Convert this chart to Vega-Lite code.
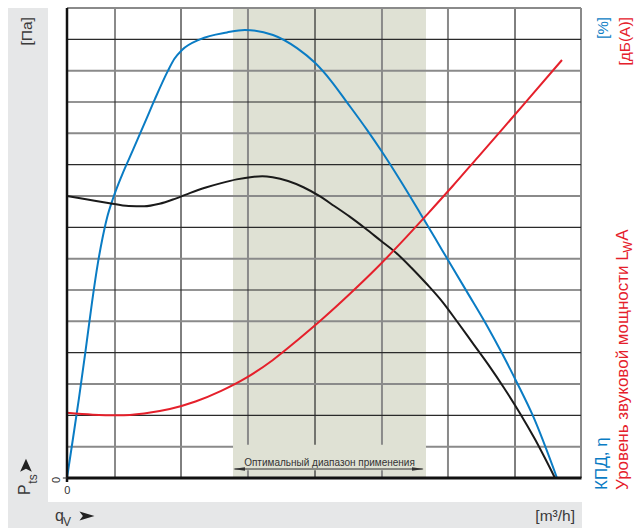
{
  "$schema": "https://vega.github.io/schema/vega-lite/v6.json",
  "width": 514,
  "height": 470,
  "autosize": {"type": "none"},
  "padding": {"left": 67, "top": 8, "right": 63, "bottom": 50},
  "background": "white",
  "config": {"view": {"stroke": null}, "font": "Liberation Sans", "text": {"font": "Liberation Sans"}},
  "datasets": {
    "curves": [
      {"series": "eta", "q": 0, "v": 0},
      {"series": "eta", "q": 1.2, "v": 1.3},
      {"series": "eta", "q": 2.33, "v": 2.55},
      {"series": "eta", "q": 3.6, "v": 4.05},
      {"series": "eta", "q": 4.86, "v": 5.6},
      {"series": "eta", "q": 6.0, "v": 6.85},
      {"series": "eta", "q": 6.9, "v": 7.65},
      {"series": "eta", "q": 7.78, "v": 8.3},
      {"series": "eta", "q": 8.95, "v": 8.92},
      {"series": "eta", "q": 10.7, "v": 9.67},
      {"series": "eta", "q": 12.84, "v": 10.47},
      {"series": "eta", "q": 15.37, "v": 11.43},
      {"series": "eta", "q": 17.12, "v": 12.1},
      {"series": "eta", "q": 19.65, "v": 13.0},
      {"series": "eta", "q": 20.9, "v": 13.38},
      {"series": "eta", "q": 22.37, "v": 13.66},
      {"series": "eta", "q": 25.88, "v": 14.0},
      {"series": "eta", "q": 31.13, "v": 14.22},
      {"series": "eta", "q": 34.6, "v": 14.3},
      {"series": "eta", "q": 40.08, "v": 14.14},
      {"series": "eta", "q": 44.75, "v": 13.72},
      {"series": "eta", "q": 48.25, "v": 13.25},
      {"series": "eta", "q": 51.4, "v": 12.67},
      {"series": "eta", "q": 54.47, "v": 11.99},
      {"series": "eta", "q": 58.37, "v": 11.11},
      {"series": "eta", "q": 61.28, "v": 10.41},
      {"series": "eta", "q": 64.79, "v": 9.51},
      {"series": "eta", "q": 68.68, "v": 8.46},
      {"series": "eta", "q": 72.96, "v": 7.28},
      {"series": "eta", "q": 77.82, "v": 5.94},
      {"series": "eta", "q": 81.71, "v": 4.86},
      {"series": "eta", "q": 84.63, "v": 3.98},
      {"series": "eta", "q": 87.55, "v": 3.04},
      {"series": "eta", "q": 90.66, "v": 1.98},
      {"series": "eta", "q": 95.33, "v": 0},
      {"series": "pressure", "q": 0, "v": 9.0},
      {"series": "pressure", "q": 4, "v": 8.89},
      {"series": "pressure", "q": 8, "v": 8.78},
      {"series": "pressure", "q": 12, "v": 8.68},
      {"series": "pressure", "q": 15, "v": 8.67},
      {"series": "pressure", "q": 18, "v": 8.75},
      {"series": "pressure", "q": 21, "v": 8.91},
      {"series": "pressure", "q": 24, "v": 9.1},
      {"series": "pressure", "q": 27, "v": 9.27},
      {"series": "pressure", "q": 30, "v": 9.41},
      {"series": "pressure", "q": 33, "v": 9.53},
      {"series": "pressure", "q": 36, "v": 9.61},
      {"series": "pressure", "q": 38, "v": 9.63},
      {"series": "pressure", "q": 40, "v": 9.6},
      {"series": "pressure", "q": 43, "v": 9.48},
      {"series": "pressure", "q": 46, "v": 9.28},
      {"series": "pressure", "q": 49, "v": 9.01},
      {"series": "pressure", "q": 52, "v": 8.68},
      {"series": "pressure", "q": 55, "v": 8.34},
      {"series": "pressure", "q": 58, "v": 7.97},
      {"series": "pressure", "q": 61, "v": 7.58},
      {"series": "pressure", "q": 64, "v": 7.19},
      {"series": "pressure", "q": 67, "v": 6.71},
      {"series": "pressure", "q": 70, "v": 6.19},
      {"series": "pressure", "q": 73, "v": 5.63},
      {"series": "pressure", "q": 76, "v": 4.97},
      {"series": "pressure", "q": 79, "v": 4.29},
      {"series": "pressure", "q": 82, "v": 3.61},
      {"series": "pressure", "q": 85, "v": 2.88},
      {"series": "pressure", "q": 88, "v": 2.1},
      {"series": "pressure", "q": 91, "v": 1.25},
      {"series": "pressure", "q": 94.94, "v": 0},
      {"series": "noise", "q": 0, "v": 2.08},
      {"series": "noise", "q": 5, "v": 2.02},
      {"series": "noise", "q": 10, "v": 2.0},
      {"series": "noise", "q": 15, "v": 2.06},
      {"series": "noise", "q": 20, "v": 2.2},
      {"series": "noise", "q": 25, "v": 2.44},
      {"series": "noise", "q": 30, "v": 2.78},
      {"series": "noise", "q": 35, "v": 3.21},
      {"series": "noise", "q": 40, "v": 3.76},
      {"series": "noise", "q": 45, "v": 4.42},
      {"series": "noise", "q": 50, "v": 5.12},
      {"series": "noise", "q": 55, "v": 5.87},
      {"series": "noise", "q": 60, "v": 6.66},
      {"series": "noise", "q": 65, "v": 7.51},
      {"series": "noise", "q": 70, "v": 8.4},
      {"series": "noise", "q": 75, "v": 9.31},
      {"series": "noise", "q": 80, "v": 10.25},
      {"series": "noise", "q": 85, "v": 11.19},
      {"series": "noise", "q": 90, "v": 12.14},
      {"series": "noise", "q": 96.3, "v": 13.34}
    ],
    "vgrid": [
      {"q": 9.34, "kind": "major"},
      {"q": 22.18, "kind": "minor"},
      {"q": 35.21, "kind": "major"},
      {"q": 48.25, "kind": "minor"},
      {"q": 61.28, "kind": "major"},
      {"q": 74.12, "kind": "major"},
      {"q": 87.16, "kind": "minor"},
      {"q": 100, "kind": "major"}
    ],
    "hgrid": [
      {"v": 1, "kind": "major"}, {"v": 2, "kind": "minor"}, {"v": 3, "kind": "major"},
      {"v": 4, "kind": "minor"}, {"v": 5, "kind": "major"}, {"v": 6, "kind": "minor"},
      {"v": 7, "kind": "major"}, {"v": 8, "kind": "minor"}, {"v": 9, "kind": "major"},
      {"v": 10, "kind": "minor"}, {"v": 11, "kind": "major"}, {"v": 12, "kind": "minor"},
      {"v": 13, "kind": "major"}, {"v": 14, "kind": "minor"}, {"v": 15, "kind": "major"}
    ]
  },
  "layer": [
    {
      "data": {"values": [{}]},
      "mark": {"type": "rect", "color": "#e6e7e8"},
      "encoding": {
        "x": {"datum": -11.48, "type": "quantitative", "scale": {"domain": [0, 100], "nice": false, "zero": false}, "axis": null},
        "x2": {"datum": -3.7},
        "y": {"datum": 15, "type": "quantitative", "scale": {"domain": [0, 15], "nice": false, "zero": false}, "axis": null},
        "y2": {"datum": -1.596}
      }
    },
    {
      "data": {"values": [{}]},
      "mark": {"type": "rect", "color": "#e6e7e8"},
      "encoding": {
        "x": {"datum": -11.48, "type": "quantitative", "scale": {"domain": [0, 100], "nice": false, "zero": false}, "axis": null},
        "x2": {"datum": 100.19},
        "y": {"datum": -0.766, "type": "quantitative", "scale": {"domain": [0, 15], "nice": false, "zero": false}, "axis": null},
        "y2": {"datum": -1.596}
      }
    },
    {
      "data": {"values": [{}]},
      "mark": {"type": "rect", "color": "#dfe1d4"},
      "encoding": {
        "x": {"datum": 32.3, "type": "quantitative", "scale": {"domain": [0, 100], "nice": false, "zero": false}, "axis": null},
        "x2": {"datum": 69.84},
        "y": {"datum": 0, "type": "quantitative", "scale": {"domain": [0, 15], "nice": false, "zero": false}, "axis": null},
        "y2": {"datum": 15}
      }
    },
    {
      "data": {"name": "vgrid"},
      "transform": [{"filter": "datum.kind == 'major'"}],
      "mark": {"type": "rule", "color": "#8a8a8a", "strokeWidth": 2},
      "encoding": {
        "x": {"field": "q", "type": "quantitative", "scale": {"domain": [0, 100], "nice": false, "zero": false}, "axis": null}
      }
    },
    {
      "data": {"name": "vgrid"},
      "transform": [{"filter": "datum.kind == 'minor'"}],
      "mark": {"type": "rule", "color": "#2a2a2a", "strokeWidth": 1.2},
      "encoding": {
        "x": {"field": "q", "type": "quantitative", "scale": {"domain": [0, 100], "nice": false, "zero": false}, "axis": null}
      }
    },
    {
      "data": {"name": "hgrid"},
      "transform": [{"filter": "datum.kind == 'major'"}],
      "mark": {"type": "rule", "color": "#8a8a8a", "strokeWidth": 2},
      "encoding": {
        "y": {"field": "v", "type": "quantitative", "scale": {"domain": [0, 15], "nice": false, "zero": false}, "axis": null}
      }
    },
    {
      "data": {"name": "hgrid"},
      "transform": [{"filter": "datum.kind == 'minor'"}],
      "mark": {"type": "rule", "color": "#2a2a2a", "strokeWidth": 1.2},
      "encoding": {
        "y": {"field": "v", "type": "quantitative", "scale": {"domain": [0, 15], "nice": false, "zero": false}, "axis": null}
      }
    },
    {
      "data": {"values": [{}]},
      "mark": {"type": "rect", "color": "#dfe1d4"},
      "encoding": {
        "x": {"datum": 32.3, "type": "quantitative", "scale": {"domain": [0, 100], "nice": false, "zero": false}, "axis": null},
        "x2": {"datum": 69.84},
        "y": {"datum": 0.25, "type": "quantitative", "scale": {"domain": [0, 15], "nice": false, "zero": false}, "axis": null},
        "y2": {"datum": 1.06}
      }
    },
    {
      "data": {"values": [{}]},
      "mark": {"type": "rule", "color": "#333333", "strokeWidth": 1},
      "encoding": {
        "x": {"datum": 32.6, "type": "quantitative", "scale": {"domain": [0, 100], "nice": false, "zero": false}, "axis": null},
        "x2": {"datum": 69.2},
        "y": {"datum": 0.287, "type": "quantitative", "scale": {"domain": [0, 15], "nice": false, "zero": false}, "axis": null}
      }
    },
    {
      "data": {"values": [{}]},
      "mark": {"type": "point", "filled": true, "color": "#333333", "size": 144, "shape": "M-1,0 L1,-0.28 L1,0.28 Z", "opacity": 1},
      "encoding": {
        "x": {"datum": 33.46, "type": "quantitative", "scale": {"domain": [0, 100], "nice": false, "zero": false}, "axis": null},
        "y": {"datum": 0.287, "type": "quantitative", "scale": {"domain": [0, 15], "nice": false, "zero": false}, "axis": null}
      }
    },
    {
      "data": {"values": [{}]},
      "mark": {"type": "point", "filled": true, "color": "#333333", "size": 144, "shape": "M1,0 L-1,-0.28 L-1,0.28 Z", "opacity": 1},
      "encoding": {
        "x": {"datum": 68.29, "type": "quantitative", "scale": {"domain": [0, 100], "nice": false, "zero": false}, "axis": null},
        "y": {"datum": 0.287, "type": "quantitative", "scale": {"domain": [0, 15], "nice": false, "zero": false}, "axis": null}
      }
    },
    {
      "data": {"values": [{}]},
      "mark": {"type": "text", "text": "Оптимальный диапазон применения", "fontSize": 10, "color": "#333333", "align": "center", "baseline": "alphabetic"},
      "encoding": {
        "x": {"datum": 51.07, "type": "quantitative", "scale": {"domain": [0, 100], "nice": false, "zero": false}, "axis": null},
        "y": {"datum": 0.38, "type": "quantitative", "scale": {"domain": [0, 15], "nice": false, "zero": false}, "axis": null}
      }
    },
    {
      "data": {"name": "curves"},
      "mark": {"type": "line", "strokeWidth": 2, "interpolate": "monotone"},
      "encoding": {
        "x": {"field": "q", "type": "quantitative", "scale": {"domain": [0, 100], "nice": false, "zero": false}, "axis": null},
        "y": {"field": "v", "type": "quantitative", "scale": {"domain": [0, 15], "nice": false, "zero": false}, "axis": null},
        "color": {"field": "series", "type": "nominal", "scale": {"domain": ["eta", "pressure", "noise"], "range": ["#0a7cc4", "#1a1a1a", "#e5202b"]}, "legend": null}
      }
    },
    {
      "data": {"values": [{}]},
      "mark": {"type": "rule", "color": "#111111", "strokeWidth": 2.5},
      "encoding": {
        "x": {"datum": 0, "type": "quantitative", "scale": {"domain": [0, 100], "nice": false, "zero": false}, "axis": null},
        "y": {"datum": -0.13, "type": "quantitative", "scale": {"domain": [0, 15], "nice": false, "zero": false}, "axis": null},
        "y2": {"datum": 15}
      }
    },
    {
      "data": {"values": [{}]},
      "mark": {"type": "rule", "color": "#111111", "strokeWidth": 3},
      "encoding": {
        "x": {"datum": -0.1, "type": "quantitative", "scale": {"domain": [0, 100], "nice": false, "zero": false}, "axis": null},
        "x2": {"datum": 100.1},
        "y": {"datum": 0, "type": "quantitative", "scale": {"domain": [0, 15], "nice": false, "zero": false}, "axis": null}
      }
    },
    {
      "data": {"values": [{}]},
      "mark": {"type": "rule", "color": "#333333", "strokeWidth": 1},
      "encoding": {
        "x": {"datum": -0.8, "type": "quantitative", "scale": {"domain": [0, 100], "nice": false, "zero": false}, "axis": null},
        "x2": {"datum": 0},
        "y": {"datum": 0, "type": "quantitative", "scale": {"domain": [0, 15], "nice": false, "zero": false}, "axis": null}
      }
    },
    {
      "data": {"values": [{}]},
      "mark": {"type": "text", "text": "0", "fontSize": 11, "color": "#333333", "align": "center", "baseline": "middle"},
      "encoding": {
        "x": {"datum": 0.05, "type": "quantitative", "scale": {"domain": [0, 100], "nice": false, "zero": false}, "axis": null},
        "y": {"datum": -0.43, "type": "quantitative", "scale": {"domain": [0, 15], "nice": false, "zero": false}, "axis": null}
      }
    },
    {
      "data": {"values": [{}]},
      "mark": {"type": "text", "text": "0", "fontSize": 11, "color": "#333333", "align": "center", "baseline": "middle", "angle": 270},
      "encoding": {
        "x": {"datum": -1.95, "type": "quantitative", "scale": {"domain": [0, 100], "nice": false, "zero": false}, "axis": null},
        "y": {"datum": -0.06, "type": "quantitative", "scale": {"domain": [0, 15], "nice": false, "zero": false}, "axis": null}
      }
    },
    {
      "data": {"values": [{}]},
      "mark": {"type": "text", "text": "[Па]", "fontSize": 15.5, "color": "#3a3a3a", "angle": 270, "align": "right", "baseline": "alphabetic"},
      "encoding": {
        "x": {"datum": -6.81, "type": "quantitative", "scale": {"domain": [0, 100], "nice": false, "zero": false}, "axis": null},
        "y": {"datum": 14.71, "type": "quantitative", "scale": {"domain": [0, 15], "nice": false, "zero": false}, "axis": null}
      }
    },
    {
      "data": {"values": [{}]},
      "mark": {"type": "text", "text": "P", "fontSize": 16, "color": "#3a3a3a", "angle": 270, "align": "left", "baseline": "alphabetic"},
      "encoding": {
        "x": {"datum": -7.2, "type": "quantitative", "scale": {"domain": [0, 100], "nice": false, "zero": false}, "axis": null},
        "y": {"datum": -0.543, "type": "quantitative", "scale": {"domain": [0, 15], "nice": false, "zero": false}, "axis": null}
      }
    },
    {
      "data": {"values": [{}]},
      "mark": {"type": "text", "text": "ts", "fontSize": 12, "color": "#3a3a3a", "angle": 270, "align": "left", "baseline": "alphabetic"},
      "encoding": {
        "x": {"datum": -5.84, "type": "quantitative", "scale": {"domain": [0, 100], "nice": false, "zero": false}, "axis": null},
        "y": {"datum": -0.18, "type": "quantitative", "scale": {"domain": [0, 15], "nice": false, "zero": false}, "axis": null}
      }
    },
    {
      "data": {"values": [{}]},
      "mark": {"type": "point", "filled": true, "color": "#222222", "size": 169, "opacity": 1, "shape": "M0,-1 L0.9,1 L0,0.55 L-0.9,1 Z"},
      "encoding": {
        "x": {"datum": -7.98, "type": "quantitative", "scale": {"domain": [0, 100], "nice": false, "zero": false}, "axis": null},
        "y": {"datum": 0.41, "type": "quantitative", "scale": {"domain": [0, 15], "nice": false, "zero": false}, "axis": null}
      }
    },
    {
      "data": {"values": [{}]},
      "mark": {"type": "text", "text": "q", "fontSize": 16, "color": "#3a3a3a", "align": "left", "baseline": "alphabetic"},
      "encoding": {
        "x": {"datum": -2.33, "type": "quantitative", "scale": {"domain": [0, 100], "nice": false, "zero": false}, "axis": null},
        "y": {"datum": -1.37, "type": "quantitative", "scale": {"domain": [0, 15], "nice": false, "zero": false}, "axis": null}
      }
    },
    {
      "data": {"values": [{}]},
      "mark": {"type": "text", "text": "V", "fontSize": 12, "color": "#3a3a3a", "align": "left", "baseline": "alphabetic"},
      "encoding": {
        "x": {"datum": -0.78, "type": "quantitative", "scale": {"domain": [0, 100], "nice": false, "zero": false}, "axis": null},
        "y": {"datum": -1.53, "type": "quantitative", "scale": {"domain": [0, 15], "nice": false, "zero": false}, "axis": null}
      }
    },
    {
      "data": {"values": [{}]},
      "mark": {"type": "point", "filled": true, "color": "#222222", "size": 225, "opacity": 1, "shape": "M1,0 L-1,0.6 L-0.55,0 L-1,-0.6 Z"},
      "encoding": {
        "x": {"datum": 3.89, "type": "quantitative", "scale": {"domain": [0, 100], "nice": false, "zero": false}, "axis": null},
        "y": {"datum": -1.21, "type": "quantitative", "scale": {"domain": [0, 15], "nice": false, "zero": false}, "axis": null}
      }
    },
    {
      "data": {"values": [{}]},
      "mark": {"type": "text", "text": "[m³/h]", "fontSize": 15.5, "color": "#3a3a3a", "align": "right", "baseline": "alphabetic"},
      "encoding": {
        "x": {"datum": 98.83, "type": "quantitative", "scale": {"domain": [0, 100], "nice": false, "zero": false}, "axis": null},
        "y": {"datum": -1.37, "type": "quantitative", "scale": {"domain": [0, 15], "nice": false, "zero": false}, "axis": null}
      }
    },
    {
      "data": {"values": [{}]},
      "mark": {"type": "text", "text": "[%]", "fontSize": 15, "color": "#0a7cc4", "angle": 270, "align": "right", "baseline": "alphabetic"},
      "encoding": {
        "x": {"datum": 105.25, "type": "quantitative", "scale": {"domain": [0, 100], "nice": false, "zero": false}, "axis": null},
        "y": {"datum": 14.71, "type": "quantitative", "scale": {"domain": [0, 15], "nice": false, "zero": false}, "axis": null}
      }
    },
    {
      "data": {"values": [{}]},
      "mark": {"type": "text", "text": "[дБ(А)]", "fontSize": 15.5, "color": "#e5202b", "angle": 270, "align": "right", "baseline": "alphabetic"},
      "encoding": {
        "x": {"datum": 109.53, "type": "quantitative", "scale": {"domain": [0, 100], "nice": false, "zero": false}, "axis": null},
        "y": {"datum": 14.71, "type": "quantitative", "scale": {"domain": [0, 15], "nice": false, "zero": false}, "axis": null}
      }
    },
    {
      "data": {"values": [{}]},
      "mark": {"type": "text", "text": "КПД, η", "fontSize": 17, "color": "#0a7cc4", "angle": 270, "align": "left", "baseline": "alphabetic"},
      "encoding": {
        "x": {"datum": 105.06, "type": "quantitative", "scale": {"domain": [0, 100], "nice": false, "zero": false}, "axis": null},
        "y": {"datum": -0.38, "type": "quantitative", "scale": {"domain": [0, 15], "nice": false, "zero": false}, "axis": null}
      }
    },
    {
      "data": {"values": [{}]},
      "mark": {"type": "text", "text": "Уровень звуковой мощности L", "fontSize": 17, "color": "#e5202b", "angle": 270, "align": "left", "baseline": "alphabetic"},
      "encoding": {
        "x": {"datum": 109.14, "type": "quantitative", "scale": {"domain": [0, 100], "nice": false, "zero": false}, "axis": null},
        "y": {"datum": -0.38, "type": "quantitative", "scale": {"domain": [0, 15], "nice": false, "zero": false}, "axis": null}
      }
    },
    {
      "data": {"values": [{}]},
      "mark": {"type": "text", "text": "W", "fontSize": 12, "color": "#e5202b", "angle": 270, "align": "left", "baseline": "alphabetic"},
      "encoding": {
        "x": {"datum": 110.0, "type": "quantitative", "scale": {"domain": [0, 100], "nice": false, "zero": false}, "axis": null},
        "y": {"datum": 7.2, "type": "quantitative", "scale": {"domain": [0, 15], "nice": false, "zero": false}, "axis": null}
      }
    },
    {
      "data": {"values": [{}]},
      "mark": {"type": "text", "text": "A", "fontSize": 17, "color": "#e5202b", "angle": 270, "align": "left", "baseline": "alphabetic"},
      "encoding": {
        "x": {"datum": 109.14, "type": "quantitative", "scale": {"domain": [0, 100], "nice": false, "zero": false}, "axis": null},
        "y": {"datum": 7.57, "type": "quantitative", "scale": {"domain": [0, 15], "nice": false, "zero": false}, "axis": null}
      }
    }
  ]
}
